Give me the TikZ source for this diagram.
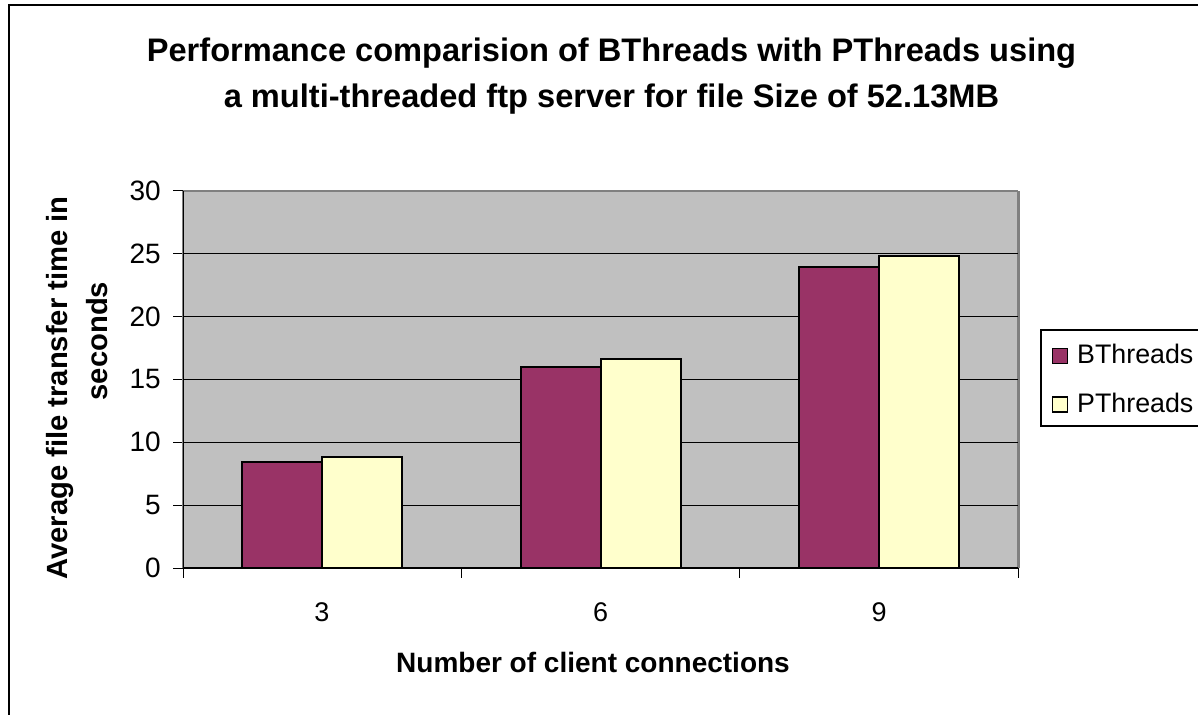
\documentclass[tikz,border=0pt]{standalone}
\usepackage{fontspec}
\setmainfont{Liberation Sans}
\definecolor{bcol}{HTML}{993366}
\definecolor{pcol}{HTML}{FFFFCC}
\definecolor{plotbg}{HTML}{C0C0C0}
\definecolor{plotedge}{HTML}{808080}
\begin{document}
\begin{tikzpicture}[x=1pt,y=-1pt,
  bar/.style={draw=black,line width=2pt},
  grid/.style={draw=black,line width=1pt},
  tick/.style={draw=black,line width=1pt},
  ylab/.style={font=\fontsize{28}{32}\selectfont,anchor=east,inner sep=0pt},
  xlab/.style={font=\fontsize{27}{32}\selectfont,anchor=center,inner sep=0pt},
  ttl/.style={font=\bfseries\fontsize{32.6}{38}\selectfont,anchor=base,inner sep=0pt},
  axttl/.style={font=\bfseries\fontsize{28}{32}\selectfont,anchor=base,inner sep=0pt},
  yttl/.style={font=\bfseries\fontsize{29.2}{34}\selectfont,anchor=base,inner sep=0pt,rotate=90},
  legtxt/.style={font=\fontsize{26.8}{30}\selectfont,anchor=base west,inner sep=0pt},
  legmark/.style={draw=black,line width=1.5pt,minimum size=15pt,inner sep=0pt}]
\useasboundingbox (0,0) rectangle (1198,714);
\clip (0,0) rectangle (1198,714);
\fill[white] (0,0) rectangle (1198,714);
% outer frame
\draw[line width=1.5pt] (9,716) -- (9,5) -- (1200,5);
% title
\node[ttl] (t1) at (611.5,62) {Performance comparision of BThreads with PThreads using};
\node[ttl] (t2) at (611.5,108) {a multi-threaded ftp server for file Size of 52.13MB};
% plot area
\fill[plotbg] (183,191) rectangle (1018,568);
\draw[plotedge,line width=1.5pt] (183,191) -- (1018,191);
\draw[plotedge,line width=3pt] (1018,191) -- (1018,568);
% grid
\foreach \v in {5,10,15,20,25}
  \draw[grid] (183,{568-\v*12.5667}) -- (1018,{568-\v*12.5667});
% y ticks and labels
\foreach \v in {0,5,...,30} {
  \draw[tick] (173,{568-\v*12.5667}) -- (183,{568-\v*12.5667});
  \node[ylab] (yl\v) at (161,{568-\v*12.5667}) {\v};
}
% bars
\foreach \i/\b/\p in {0/8.43/8.83, 1/16.02/16.61, 2/23.93/24.83} {
  \pgfmathsetmacro{\c}{183+278.333*(\i+0.5)}
  \draw[bar,fill=bcol] ({\c-80},568) rectangle (\c,{568-\b*12.5667});
  \draw[bar,fill=pcol] (\c,568) rectangle ({\c+80},{568-\p*12.5667});
}
% axes
\draw[plotedge,line width=2pt] (183,191) -- (183,568);
\draw[black,line width=1pt] (183,191) -- (183,578);
\draw[black,line width=2pt] (183,568) -- (1018,568);
\foreach \i in {0,1,2,3}
  \draw[tick] ({183+278.333*\i},568) -- ({183+278.333*\i},578);
% x labels
\node[xlab] (x3) at (322,612) {3};
\node[xlab] (x6) at (600.5,612) {6};
\node[xlab] (x9) at (879,612) {9};
% axis titles
\node[axttl] (xt) at (593,672) {Number of client connections};
\node[yttl] (yt1) at (67,388) {Average file transfer time in};
\node[yttl] (yt2) at (107,341) {seconds};
% legend
\draw[line width=1.5pt,fill=white] (1041,330) rectangle (1210,426);
\node[legmark,fill=bcol] (lb) at (1060,356) {};
\node[legmark,fill=pcol] (lp) at (1060,404.5) {};
\node[legtxt] (lbt) at (1077,363) {BThreads};
\node[legtxt] (lpt) at (1077,412) {PThreads};
\end{tikzpicture}
\end{document}
